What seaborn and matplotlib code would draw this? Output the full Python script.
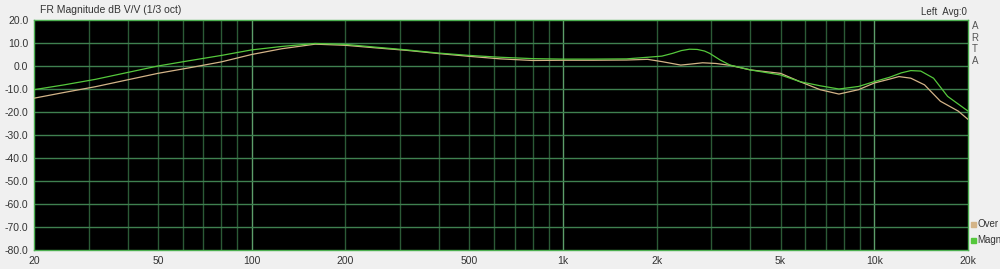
import numpy as np
import pandas as pd
import matplotlib
matplotlib.use("Agg")
import matplotlib.pyplot as plt
import seaborn as sns
from matplotlib.ticker import FixedLocator, NullFormatter, NullLocator

# ---- data ----
freq_magn = [20, 25, 31.5, 40, 50, 63, 80, 100, 125, 160, 200, 250, 315, 400, 500, 630,
             800, 1000, 1250, 1600, 1870, 2080, 2250, 2400, 2550, 2700, 2850, 2960, 3200, 3440,
             4000, 5000, 5770, 6700, 7700, 8900, 10000, 11200, 12200, 13100, 14100, 15500,
             17200, 20000]
db_magn = [-10.3, -8.2, -5.8, -2.8, 0.0, 2.3, 4.6, 7.0, 8.5, 9.8, 9.4, 8.2, 7.0, 5.6, 4.6, 3.8,
           3.2, 3.0, 3.0, 3.1, 3.8, 4.3, 5.5, 6.7, 7.3, 7.2, 6.5, 5.5, 2.6, 0.4,
           -1.7, -3.9, -6.8, -8.6, -10.0, -8.9, -6.8, -4.9, -3.0, -2.0, -2.2, -5.3,
           -13.2, -19.6]

freq_over = [20, 25, 31.5, 40, 50, 63, 80, 100, 125, 160, 200, 250, 315, 400, 500, 630,
             800, 1000, 1250, 1600, 1870, 2080, 2390, 2600, 2810, 3100, 3440, 4000, 5000, 5770,
             6700, 7700, 8900, 10000, 11200, 12000, 13100, 14500, 16300, 18600, 20000]
db_over = [-14.0, -11.5, -9.0, -6.0, -3.2, -0.8, 1.8, 5.0, 7.5, 9.5, 9.0, 7.9, 6.8, 5.4, 4.2, 3.1,
           2.4, 2.5, 2.5, 2.6, 2.9, 1.9, 0.4, 0.9, 1.4, 1.1, 0.3, -1.7, -3.2, -6.8,
           -10.3, -12.2, -10.3, -7.4, -5.7, -4.6, -5.3, -8.2, -15.3, -19.6, -23.2]

xtick_vals = [20, 50, 100, 200, 500, 1000, 2000, 5000, 10000, 20000]
xtick_labels = ["20", "50", "100", "200", "500", "1k", "2k", "5k", "10k", "20k"]
ytick_vals = [20, 10, 0, -10, -20, -30, -40, -50, -60, -70, -80]
ytick_labels = ["20.0", "10.0", "0.0", "-10.0", "-20.0", "-30.0", "-40.0", "-50.0",
                "-60.0", "-70.0", "-80.0"]

COL_OVER = "#d4b488"
COL_MAGN = "#55c83c"

df = pd.concat([
    pd.DataFrame({"f": freq_over, "dB": db_over, "s": "Over"}),
    pd.DataFrame({"f": freq_magn, "dB": db_magn, "s": "Magn"}),
])

sns.set_theme(style="white")
plt.rcParams["font.family"] = ["Liberation Sans", "DejaVu Sans"]

fig = plt.figure(figsize=(10, 2.69), dpi=100, facecolor="#f0f0f0")
W, H = 1000, 269
x0, x1, ytop, ybot = 34, 968, 20, 250
ax = fig.add_axes([x0 / W, 1 - ybot / H, (x1 - x0) / W, (ybot - ytop) / H])
ax.set_facecolor("black")

ax.set_xscale("log")
ax.set_xlim(20, 20000)
ax.set_ylim(-80, 20)

# grid
grid_f = []
for dec in [10, 100, 1000, 10000]:
    for m in range(1, 10):
        v = dec * m
        if 20 < v < 20000:
            grid_f.append(v)
for v in grid_f:
    bright = v in (100, 1000, 10000)
    ax.axvline(v, color="#5c9e6a" if bright else "#2b5a36", lw=1.0, zorder=1)
for v in ytick_vals[1:-1]:
    ax.axhline(v, color="#3f8050", lw=1.0, zorder=1)

sns.lineplot(data=df, x="f", y="dB", hue="s", palette={"Over": COL_OVER, "Magn": COL_MAGN},
             hue_order=["Over", "Magn"], estimator=None, sort=True, lw=0.9, ax=ax,
             legend=False, zorder=3)

ax.xaxis.set_major_locator(FixedLocator(xtick_vals))
ax.set_xticklabels(xtick_labels)
ax.xaxis.set_minor_locator(NullLocator())
ax.xaxis.set_minor_formatter(NullFormatter())
ax.set_yticks(ytick_vals)
ax.set_yticklabels(ytick_labels)
ax.tick_params(axis="both", length=0, labelsize=7.5, colors="#333333", pad=4)
ax.set_xlabel("")
ax.set_ylabel("")
for sp in ax.spines.values():
    sp.set_color("#4caf50")
    sp.set_linewidth(1.0)

fig.text(40 / W, 1 - 10 / H, "FR Magnitude dB V/V (1/3 oct)", fontsize=7.5, color="#333333",
         va="center", ha="left")
fig.text(967 / W, 1 - 12 / H, "Left  Avg:0", fontsize=7, color="#333333", va="center", ha="right")
for i, ch in enumerate("ARTA"):
    fig.text(975 / W, 1 - (26 + i * 11.5) / H, ch, fontsize=7, color="#555555",
             va="center", ha="center")

# legend (clipped by the figure edge as in the reference)
for i, (lab, col) in enumerate([("Over", COL_OVER), ("Magn", COL_MAGN)]):
    yy = 1 - (224 + i * 16) / H
    fig.patches.append(plt.Rectangle((971 / W, yy - 2.5 / H), 5 / W, 5 / H,
                                     transform=fig.transFigure, color=col, figure=fig))
    fig.text(977 / W, yy, lab, fontsize=7, color="#333333", va="center", ha="left")

fig.savefig("out.png", dpi=100, facecolor=fig.get_facecolor())
